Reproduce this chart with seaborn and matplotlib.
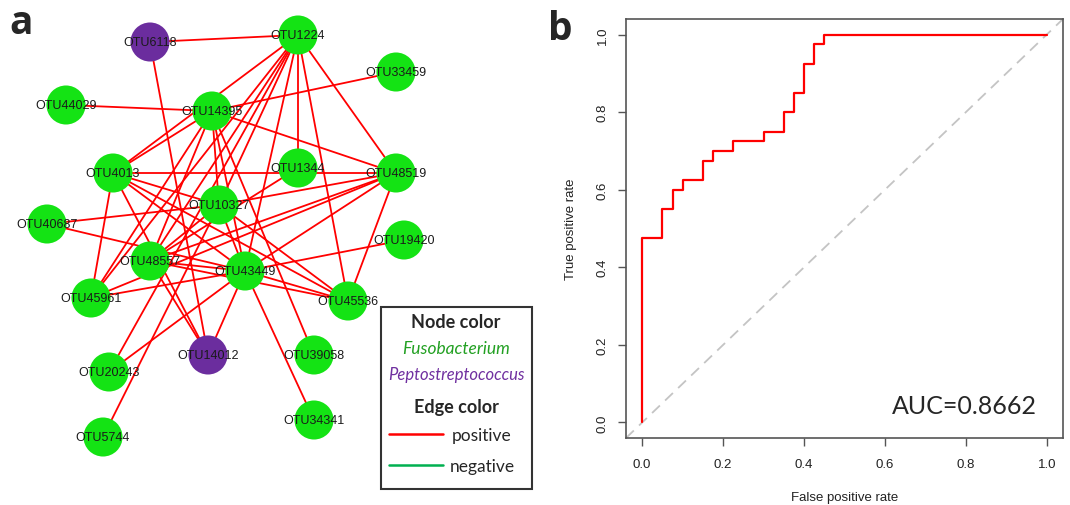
import numpy as np
import pandas as pd
import matplotlib.pyplot as plt
from matplotlib.patches import Rectangle
import seaborn as sns

# ---- panel a: co-occurrence network (layout, pixel units) ----
node_names = ['OTU6118', 'OTU1224', 'OTU33459', 'OTU44029', 'OTU14395', 'OTU4013',
              'OTU1344', 'OTU48519', 'OTU10327', 'OTU40687', 'OTU19420', 'OTU48557',
              'OTU43449', 'OTU45961', 'OTU45536', 'OTU14012', 'OTU39058', 'OTU20243',
              'OTU34341', 'OTU5744']
node_x = [150, 298, 396, 66, 212, 113, 298, 396, 219, 47, 404, 150,
          245, 91, 348, 208, 314, 109, 314, 103]
node_y = [43, 36, 73, 106, 112, 174, 169, 174, 206, 225, 241, 262,
          272, 299, 302, 356, 356, 373, 421, 438]
node_genus = ['Peptostreptococcus', 'Fusobacterium', 'Fusobacterium', 'Fusobacterium',
              'Fusobacterium', 'Fusobacterium', 'Fusobacterium', 'Fusobacterium',
              'Fusobacterium', 'Fusobacterium', 'Fusobacterium', 'Fusobacterium',
              'Fusobacterium', 'Fusobacterium', 'Fusobacterium', 'Peptostreptococcus',
              'Fusobacterium', 'Fusobacterium', 'Fusobacterium', 'Fusobacterium']

edge_from = ['OTU6118', 'OTU6118', 'OTU44029', 'OTU33459',
             'OTU1224', 'OTU1224', 'OTU1224', 'OTU1224', 'OTU1224', 'OTU1224',
             'OTU1224', 'OTU1224', 'OTU1224',
             'OTU14395', 'OTU14395', 'OTU14395', 'OTU14395', 'OTU14395', 'OTU14395', 'OTU14395',
             'OTU4013', 'OTU4013', 'OTU4013', 'OTU4013', 'OTU4013', 'OTU4013',
             'OTU40687', 'OTU40687',
             'OTU48519', 'OTU48519', 'OTU48519', 'OTU48519', 'OTU48519',
             'OTU1344', 'OTU10327', 'OTU10327', 'OTU10327', 'OTU10327',
             'OTU48557', 'OTU48557', 'OTU48557', 'OTU45961',
             'OTU43449', 'OTU43449', 'OTU43449', 'OTU43449', 'OTU43449']
edge_to = ['OTU1224', 'OTU14012', 'OTU14395', 'OTU14395',
           'OTU4013', 'OTU48557', 'OTU45961', 'OTU10327', 'OTU43449', 'OTU1344',
           'OTU45536', 'OTU48519', 'OTU20243',
           'OTU4013', 'OTU48557', 'OTU45961', 'OTU10327', 'OTU43449', 'OTU48519', 'OTU39058',
           'OTU48519', 'OTU10327', 'OTU43449', 'OTU45536', 'OTU45961', 'OTU14012',
           'OTU10327', 'OTU43449',
           'OTU10327', 'OTU48557', 'OTU45961', 'OTU43449', 'OTU45536',
           'OTU48557', 'OTU48557', 'OTU45536', 'OTU43449', 'OTU5744',
           'OTU43449', 'OTU45536', 'OTU14012', 'OTU43449',
           'OTU45536', 'OTU34341', 'OTU19420', 'OTU14012', 'OTU20243']
edge_sign = ['positive'] * len(edge_from)

# ---- panel b: ROC curve ----
fpr = [0.0, 0.0, 0.05, 0.075, 0.1, 0.15, 0.175, 0.225, 0.3, 0.35, 0.375, 0.4, 0.425, 0.45, 1.0]
tpr = [0.0, 0.475, 0.55, 0.6, 0.625, 0.675, 0.7, 0.725, 0.75, 0.8, 0.85, 0.925, 0.975, 1.0, 1.0]
auc_label = 'AUC=0.8662'

sns.set_style('ticks')
plt.rcParams['font.family'] = ['Liberation Sans', 'DejaVu Sans']

green = '#14e314'
purple = '#6b2d9e'
edge_colors = {'positive': '#ff0000', 'negative': '#00b050'}

fig = plt.figure(figsize=(10.7, 5.06), dpi=100)

# network axes in pixel coordinates
ax = fig.add_axes([0, 0, 540 / 1070, 1])
ax.set_xlim(0, 540)
ax.set_ylim(506, 0)
ax.axis('off')

nodes = pd.DataFrame({'name': node_names, 'x': node_x, 'y': node_y, 'genus': node_genus})
pos = nodes.set_index('name')
for a, b, s in zip(edge_from, edge_to, edge_sign):
    ax.plot([pos.loc[a, 'x'], pos.loc[b, 'x']], [pos.loc[a, 'y'], pos.loc[b, 'y']],
            color=edge_colors[s], lw=1.3, zorder=1)

sns.scatterplot(data=nodes, x='x', y='y', hue='genus',
                palette={'Fusobacterium': green, 'Peptostreptococcus': purple},
                s=790, linewidth=0, legend=False, ax=ax, zorder=2)
for _, r in nodes.iterrows():
    ax.text(r.x, r.y, r['name'], ha='center', va='center', fontsize=9,
            color='#1a1a1a', zorder=3)

# legend box
ax.add_patch(Rectangle((381, 308), 151, 182, fill=False, lw=1.5, ec='#333333', zorder=4))
lf = ['Lato', 'DejaVu Sans']
ax.text(456, 323, 'Node color', ha='center', va='center', fontsize=13,
        fontweight='bold', family=lf)
ax.text(456, 349, 'Fusobacterium', ha='center', va='center', fontsize=12.5,
        style='italic', color='#22a022', family=lf)
ax.text(456, 375, 'Peptostreptococcus', ha='center', va='center', fontsize=12,
        style='italic', color='#7030a0', family=lf)
ax.text(456, 408, 'Edge color', ha='center', va='center', fontsize=13,
        fontweight='bold', family=lf)
ax.plot([389, 443], [435, 435], color=edge_colors['positive'], lw=1.8)
ax.text(452, 436, 'positive', ha='left', va='center', fontsize=12.5, family=lf)
ax.plot([389, 443], [466, 466], color=edge_colors['negative'], lw=1.8)
ax.text(450, 467, 'negative', ha='left', va='center', fontsize=12.5, family=lf)

fig.text(21 / 1070, 1 - 24 / 506, 'a', ha='center', va='center', fontsize=28,
         fontweight='bold', family=['Open Sans', 'DejaVu Sans'])
fig.text(560 / 1070, 1 - 30 / 506, 'b', ha='center', va='center', fontsize=28,
         fontweight='bold', family=['Open Sans', 'DejaVu Sans'])

# ROC axes
ax2 = fig.add_axes([626 / 1070, 1 - 439 / 506, (1063 - 626) / 1070, (439 - 20) / 506])
ax2.axline((0, 0), (1, 1), color='#c4c4c4', lw=1.3, ls=(0, (6, 4)), zorder=1)
sns.lineplot(x=fpr, y=tpr, sort=False, estimator=None, drawstyle='steps-post',
             color='#ff0000', lw=1.6, ax=ax2, zorder=2)
ax2.set_xlim(-0.04, 1.04)
ax2.set_ylim(-0.04, 1.04)
ax2.set_xticks(np.arange(0, 1.01, 0.2))
ax2.set_yticks(np.arange(0, 1.01, 0.2))
ax2.set_xticklabels([f'{v:.1f}' for v in np.arange(0, 1.01, 0.2)])
ax2.set_yticklabels([f'{v:.1f}' for v in np.arange(0, 1.01, 0.2)], rotation=90, va='center')
ax2.tick_params(length=5.5, width=1, color='#555555', labelsize=9.5, pad=7,
                labelcolor='#222222')
ax2.tick_params(axis='x', pad=9)
for sp in ax2.spines.values():
    sp.set_color('#555555')
    sp.set_linewidth(1.2)
ax2.set_xlabel('False positive rate', fontsize=9.5, labelpad=15, color='#222222')
ax2.set_ylabel('True positive rate', fontsize=9.5, labelpad=14, color='#222222')
ax2.text(0.975, 0.045, auc_label, ha='right', va='center', fontsize=18,
         family=['Lato', 'DejaVu Sans'])

fig.savefig('out.png', dpi=100)
